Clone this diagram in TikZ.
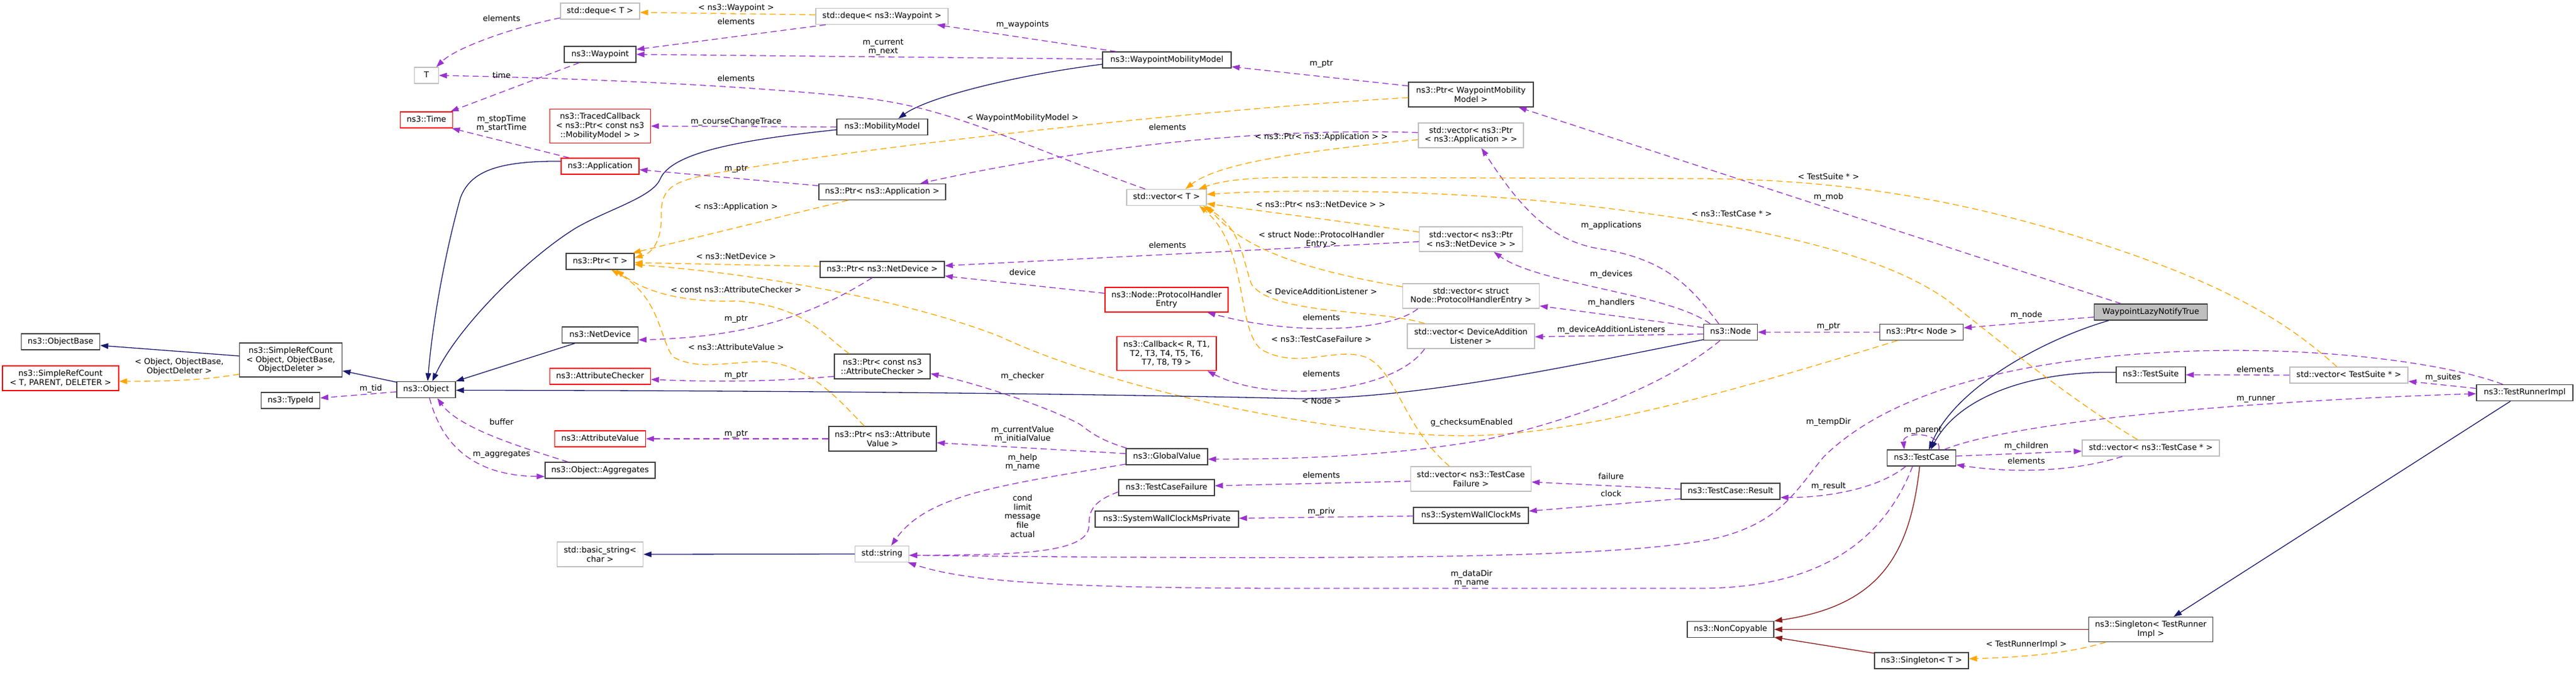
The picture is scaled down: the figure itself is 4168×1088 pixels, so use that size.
\documentclass[tikz,border=0pt]{standalone}
\usepackage{fontspec}
\setmainfont{DejaVu Sans}
\usetikzlibrary{arrows.meta}
\definecolor{cNavy}{HTML}{191970}
\definecolor{cPurple}{HTML}{9A32CD}
\definecolor{cOrange}{HTML}{FFA500}
\definecolor{cDarkRed}{HTML}{8B1A1A}
\definecolor{cBox}{HTML}{404040}
\definecolor{cGray}{HTML}{BFBFBF}
\definecolor{cUndoc}{HTML}{FF0000}
\newcommand{\dfont}{\fontsize{13pt}{14.8pt}\selectfont}
\tikzset{
  nbox/.style={line width=1.3pt, inner sep=0pt, align=center, font=\dfont},
  cls/.style={nbox, draw=cBox},
  tmpl/.style={nbox, draw=cGray},
  undoc/.style={nbox, draw=cUndoc},
  mainbox/.style={nbox, draw=cBox, fill=cGray},
  sz/.style 2 args={minimum width=#1pt, minimum height=#2pt},
  one/.style={text height=9.8pt, text depth=3.2pt},
  lab/.style={font=\dfont, align=center, inner sep=0pt},
  conn/.style={line width=1.3pt, -{Triangle[length=13pt,width=9pt]}},
  inh/.style={conn, draw=cNavy},
  usage/.style={conn, draw=cPurple, dash pattern=on 10pt off 6pt},
  tpl/.style={conn, draw=cOrange, dash pattern=on 10pt off 6pt},
  priv/.style={conn, draw=cDarkRed}
}
\begin{document}
\begin{tikzpicture}[x=1pt,y=1pt]
\useasboundingbox (0,0) rectangle (4168,-1088);
\fill[white] (0,0) rectangle (4168,-1088);

% ---------- nodes ----------
\node[tmpl, sz={39}{26}, one] (T) at (690,-122) {T};
\node[undoc, sz={85}{26}, one] (time) at (690,-194) {ns3::Time};
\node[cls, sz={127}{26}, one] (objbase) at (98,-553) {ns3::ObjectBase};
\node[undoc, sz={188}{40}] (srcT) at (98,-612) {ns3::SimpleRefCount\\< T, PARENT, DELETER >};
\node[cls, sz={166}{55}] (srcO) at (470.5,-582.5) {ns3::SimpleRefCount\\< Object, ObjectBase,\\ObjectDeleter >};
\node[cls, sz={95}{26}, one] (typeid) at (470,-648) {ns3::TypeId};
\node[cls, sz={95}{26}, one] (object) at (689.5,-630.5) {ns3::Object};

\node[tmpl, sz={128}{26}, one] (dequeT) at (971,-18) {std::deque< T >};
\node[cls, sz={116}{26}, one] (waypoint) at (971,-88) {ns3::Waypoint};
\node[undoc, sz={163}{55}] (traced) at (971,-204) {ns3::TracedCallback\\< ns3::Ptr< const ns3\\::MobilityModel > >};
\node[undoc, sz={126}{26}, one] (app) at (971,-269) {ns3::Application};
\node[cls, sz={110}{26}, one] (ptrT) at (971,-423) {ns3::Ptr< T >};
\node[cls, sz={123}{26}, one] (netdev) at (971,-542) {ns3::NetDevice};
\node[undoc, sz={163}{26}, one] (attrchk) at (971,-609) {ns3::AttributeChecker};
\node[undoc, sz={147}{26}, one] (attrval) at (971,-710) {ns3::AttributeValue};
\node[cls, sz={178}{26}, one] (aggr) at (971,-761) {ns3::Object::Aggregates};
\node[tmpl, sz={139}{40}] (basicstr) at (971,-897) {std::basic\_string<\\char >};

\node[tmpl, sz={214}{26}, one] (dequeW) at (1427,-26.5) {std::deque< ns3::Waypoint >};
\node[cls, sz={147}{26}, one] (mobility) at (1427.5,-205.5) {ns3::MobilityModel};
\node[cls, sz={205}{26}, one] (ptrApp) at (1427.5,-310.5) {ns3::Ptr< ns3::Application >};
\node[cls, sz={201}{26}, one] (ptrND) at (1427.5,-436) {ns3::Ptr< ns3::NetDevice >};
\node[cls, sz={155}{40}] (ptrAC) at (1427.5,-593) {ns3::Ptr< const ns3\\::AttributeChecker >};
\node[cls, sz={174}{40}] (ptrAV) at (1428,-710) {ns3::Ptr< ns3::Attribute\\Value >};
\node[tmpl, sz={87}{26}, one] (string) at (1427,-896.5) {std::string};

\node[cls, sz={208}{26}, one] (wmm) at (1888,-97) {ns3::WaypointMobilityModel};
\node[tmpl, sz={129}{26}, one] (vecT) at (1887.5,-319.5) {std::vector< T >};
\node[undoc, sz={199}{40}] (phe) at (1887.5,-485) {ns3::Node::ProtocolHandler\\Entry};
\node[undoc, sz={161}{55}] (callback) at (1887.5,-572) {ns3::Callback< R, T1,\\T2, T3, T4, T5, T6,\\T7, T8, T9 >};
\node[cls, sz={132}{26}, one] (globalval) at (1888,-739) {ns3::GlobalValue};
\node[cls, sz={155}{26}, one] (tcf) at (1887.5,-789) {ns3::TestCaseFailure};
\node[cls, sz={232}{26}, one] (swcmp) at (1888,-840) {ns3::SystemWallClockMsPrivate};

\node[cls, sz={202}{40}] (ptrWMM) at (2380,-153) {ns3::Ptr< WaypointMobility\\Model >};
\node[tmpl, sz={170}{40}] (vecPApp) at (2380,-219) {std::vector< ns3::Ptr\\< ns3::Application > >};
\node[tmpl, sz={167}{40}] (vecPND) at (2380,-387) {std::vector< ns3::Ptr\\< ns3::NetDevice > >};
\node[tmpl, sz={221}{40}] (vecPHE) at (2380,-479) {std::vector< struct\\Node::ProtocolHandlerEntry >};
\node[tmpl, sz={206}{40}] (vecDAL) at (2380,-544) {std::vector< DeviceAddition\\Listener >};
\node[tmpl, sz={195}{40}] (vecTCF) at (2380,-775) {std::vector< ns3::TestCase\\Failure >};
\node[cls, sz={186}{26}, one] (swcm) at (2380,-834) {ns3::SystemWallClockMs};

\node[cls, sz={87}{26}, one] (node) at (2800,-537.5) {ns3::Node};
\node[cls, sz={160}{26}, one] (result) at (2800,-795) {ns3::TestCase::Result};
\node[cls, sz={140}{26}, one] (noncopy) at (2800,-1018.5) {ns3::NonCopyable};

\node[cls, sz={135}{26}, one] (ptrNode) at (3109,-537.5) {ns3::Ptr< Node >};
\node[cls, sz={111}{26}, one] (testcase) at (3109,-741) {ns3::TestCase};
\node[cls, sz={152}{26}, one] (singT) at (3109,-1069) {ns3::Singleton< T >};

\node[mainbox, sz={183}{26}, one] (wlnt) at (3480,-505) {WaypointLazyNotifyTrue};
\node[cls, sz={112}{26}, one] (testsuite) at (3480,-606.5) {ns3::TestSuite};
\node[tmpl, sz={222}{26}, one] (vecTC) at (3480,-725) {std::vector< ns3::TestCase * >};
\node[cls, sz={201}{40}] (singTRI) at (3480,-1018.5) {ns3::Singleton< TestRunner\\Impl >};

\node[tmpl, sz={191}{26}, one] (vecTS) at (3800.5,-607) {std::vector< TestSuite * >};
\node[cls, sz={156}{26}, one] (tri) at (4085,-635.5) {ns3::TestRunnerImpl};

% ---------- connectors ----------
\draw[inh] ([xshift=-68pt]wlnt.south) .. controls (3310,-548) and (3165,-625) .. ([xshift=12pt]testcase.north);
\draw[inh] ([yshift=4pt]testsuite.west) .. controls (3290,-600) and (3170,-640) .. ([xshift=15pt]testcase.north);
\draw[usage] ([yshift=-8pt]wlnt.west) -- ([yshift=7pt]ptrNode.east);
\draw[usage] (ptrNode.west) -- (node.east);
\draw[tpl] ([xshift=-39pt]ptrNode.south) .. controls (2820,-628) and (2560,-705) .. (2368,-705) .. controls (2150,-705) and (1800,-630) .. (1619,-545) .. controls (1480,-490) and (1250,-445) .. ([yshift=-5pt]ptrT.east);
\draw[usage] ([xshift=-48pt]wlnt.north) -- ([xshift=77pt]ptrWMM.south);
\draw[usage] ([yshift=14pt]ptrWMM.west) -- ([yshift=-11pt]wmm.east);
\draw[tpl] ([yshift=-5pt]ptrWMM.west) .. controls (1900,-180) and (1400,-240) .. (1191,-274.6) .. controls (1100,-290) and (1069,-295) .. (1070,-347) .. controls (1071,-390) and (1055,-410) .. ([yshift=6pt]ptrT.east);
\draw[inh] ([yshift=-7pt]wmm.west) .. controls (1640,-122) and (1500,-158) .. ([xshift=26pt]mobility.north);
\draw[usage] ([xshift=-82pt]wmm.north) -- ([xshift=89pt]dequeW.south);
\draw[usage] ([yshift=1.4pt]wmm.west) -- (waypoint.east);
\draw[tpl] ([yshift=2.5pt]dequeW.west) -- ([yshift=-2pt]dequeT.east);
\draw[usage] ([xshift=-91pt]dequeW.south) -- ([yshift=8pt]waypoint.east);
\draw[usage] ([yshift=-11pt]dequeT.west) .. controls (840,-42) and (740,-75) .. ([xshift=16pt]T.north);
\draw[usage] ([xshift=-34pt]waypoint.south) -- ([xshift=39pt]time.north);
\draw[usage] ([xshift=-34.5pt]vecT.north) .. controls (1640,-230) and (1540,-175) .. (1400,-159) .. controls (1250,-142) and (1000,-128) .. (T.east);
\draw[usage] ([xshift=-50pt]app.north) -- ([xshift=-2pt]time.south east);
\draw[inh] ([yshift=8pt]app.west) .. controls (800,-260) and (760,-280) .. (745,-320) .. controls (720,-410) and (700,-520) .. ([xshift=2.5pt]object.north);
\draw[inh] ([yshift=-4.5pt]mobility.west) .. controls (1180,-228) and (1085,-250) .. (1068,-290) .. controls (1055,-320) and (980,-340) .. (930,-370) .. controls (850,-420) and (740,-530) .. ([xshift=10pt]object.north);
\draw[usage] (mobility.west) -- (traced.east);
\draw[usage] ([yshift=10pt]ptrApp.west) -- ([yshift=-5.6pt]app.east);
\draw[tpl] ([xshift=-55.5pt]ptrApp.south) -- ([xshift=-3pt]ptrT.north east);
\draw[usage] ([yshift=4.5pt]vecPApp.west) .. controls (2000,-205) and (1700,-250) .. ([xshift=61.5pt]ptrApp.north);
\draw[tpl] ([yshift=-7pt]vecPApp.west) .. controls (2100,-245) and (1970,-265) .. ([xshift=30.5pt]vecT.north);
\draw[usage] ([xshift=-19pt]node.north) .. controls (2740,-470) and (2700,-420) .. (2591,-403) .. controls (2500,-390) and (2450,-320) .. ([xshift=17pt]vecPApp.south);
\draw[usage] ([xshift=-33pt]node.north) .. controls (2700,-475) and (2490,-460) .. ([xshift=37pt]vecPND.south);
\draw[usage] ([yshift=7.5pt]node.west) -- ([yshift=-16pt]vecPHE.east);
\draw[usage] ([yshift=-3pt]node.west) -- ([yshift=-1pt]vecDAL.east);
\draw[inh] ([yshift=1.5pt]node.south west) .. controls (2550,-590) and (2300,-645) .. (2100,-645) .. controls (1900,-640) and (1400,-632) .. ([yshift=-1pt]object.east);
\draw[usage] ([xshift=-17pt]node.south) .. controls (2700,-620) and (2550,-680) .. (2400,-712) .. controls (2250,-738) and (2100,-743) .. ([yshift=-4pt]globalval.east);
\draw[usage] ([yshift=-4pt]vecPND.west) -- ([yshift=6pt]ptrND.east);
\draw[tpl] ([yshift=11.6pt]vecPND.west) -- ([yshift=-10pt]vecT.east);
\draw[usage] ([xshift=-86pt]vecPHE.south) .. controls (2250,-535) and (2100,-545) .. ([xshift=66pt]phe.south);
\draw[tpl] ([yshift=15pt]vecPHE.west) .. controls (2100,-435) and (2010,-400) .. (vecT.south east);
\draw[usage] ([yshift=10.5pt]phe.west) -- ([yshift=-10.6pt]ptrND.east);
\draw[usage] ([xshift=-16.5pt]ptrND.south) .. controls (1330,-500) and (1230,-545) .. ([yshift=-8pt]netdev.east);
\draw[tpl] ([yshift=5pt]ptrND.west) -- ([yshift=-2pt]ptrT.east);
\draw[inh] ([xshift=-41pt]netdev.south) -- (object.north east);
\draw[tpl] ([xshift=-75pt]vecDAL.north) .. controls (2230,-500) and (2060,-510) .. (2025,-460) .. controls (2010,-420) and (2010,-370) .. ([xshift=-6pt]vecT.south east);
\draw[usage] ([xshift=-75pt]vecDAL.south) .. controls (2255,-635) and (2060,-655) .. ([xshift=66pt]callback.south);
\draw[tpl] ([xshift=-35pt]vecTCF.north) .. controls (2270,-690) and (2260,-600) .. (2210,-578) .. controls (2160,-560) and (2100,-600) .. (2040,-565) .. controls (2000,-530) and (2020,-400) .. ([xshift=-12pt]vecT.south east);
\draw[usage] ([yshift=-3.7pt]vecTCF.west) -- ([yshift=3pt]tcf.east);
\draw[usage] ([yshift=-7pt]tcf.west) .. controls (1765,-812) and (1762,-830) .. (1762,-850) .. controls (1762,-895) and (1650,-898) .. ([yshift=-2pt]string.east);
\draw[usage] ([yshift=-12pt]globalval.west) .. controls (1620,-785) and (1500,-800) .. ([xshift=15pt]string.north);
\draw[usage] ([yshift=5pt]globalval.west) -- ([yshift=-6.4pt]ptrAV.east);
\draw[usage] ([xshift=2pt]globalval.north west) .. controls (1780,-712) and (1765,-700) .. (1748,-687) .. controls (1700,-660) and (1580,-620) .. ([yshift=-11.6pt]ptrAC.east);
\draw[usage] ([yshift=-16pt]ptrAC.west) .. controls (1250,-618) and (1150,-618) .. ([yshift=-5pt]attrchk.east);
\draw[tpl] ([xshift=-53.5pt]ptrAC.north) .. controls (1330,-540) and (1300,-495) .. (1191,-487) .. controls (1100,-490) and (1040,-470) .. ([xshift=26pt]ptrT.south);
\draw[usage] (ptrAV.west) -- (attrval.east);
\draw[tpl] ([xshift=-29.5pt]ptrAV.north) .. controls (1360,-650) and (1310,-590) .. (1236,-585) .. controls (1180,-585) and (1130,-600) .. (1090,-578) .. controls (1068,-555) and (1070,-480) .. ([xshift=18pt]ptrT.south);
\draw[usage] ([xshift=5.5pt]object.south) .. controls (720,-740) and (790,-770) .. ([yshift=-10pt]aggr.west);
\draw[usage] ([xshift=-52pt]aggr.north) .. controls (830,-720) and (740,-690) .. ([xshift=18pt]object.south);
\draw[inh] (string.west) -- (basicstr.east);
\draw[usage] ([xshift=-14.5pt]testcase.south) .. controls (3050,-870) and (2950,-952) .. (2750,-952) -- (2100,-952) .. controls (1700,-952) and (1560,-940) .. ([xshift=-2pt]string.south east);
\draw[usage] ([xshift=-35.5pt]tri.north) .. controls (3950,-585) and (3750,-562) .. (3550,-568) .. controls (3250,-578) and (3050,-640) .. (2950,-740) .. controls (2905,-795) and (2880,-845) .. (2780,-870) .. controls (2650,-900) and (2300,-908) .. ([yshift=-2pt]string.east);
\draw[usage] ([xshift=-25.5pt]testcase.south) .. controls (3040,-790) and (2960,-805) .. ([yshift=-10pt]result.east);
\draw[usage] ([xshift=28pt]testcase.north) .. controls (3142,-698) and (3078,-698) .. ([xshift=-28pt]testcase.north);
\draw[usage] ([yshift=3pt]testcase.east) -- ([yshift=-5pt]vecTC.west);
\draw[usage] ([xshift=-46pt]vecTC.south) .. controls (3350,-765) and (3250,-765) .. ([yshift=-11pt]testcase.east);
\draw[tpl] ([xshift=-21.5pt]vecTC.north) .. controls (3340,-640) and (3240,-555) .. (3150,-485) .. controls (3030,-400) and (2800,-360) .. (2550,-331) .. controls (2350,-308) and (2100,-305) .. ([yshift=5pt]vecT.east);
\draw[tpl] ([xshift=-19.5pt]vecTS.north) .. controls (3700,-520) and (3600,-460) .. (3400,-395) .. controls (3200,-330) and (3000,-290) .. (2750,-289) -- (2100,-287) .. controls (2000,-287) and (1970,-295) .. ([xshift=52pt]vecT.north);
\draw[usage] ([yshift=7pt]tri.west) -- ([yshift=-10pt]vecTS.east);
\draw[usage] (vecTS.west) -- (testsuite.east);
\draw[usage] ([xshift=37pt]testcase.north) .. controls (3250,-685) and (3600,-650) .. ([yshift=-1.5pt]tri.west);
\draw[inh] ([xshift=-23pt]tri.south) -- ([xshift=37pt]singTRI.north);
\draw[priv] (singTRI.west) -- (noncopy.east);
\draw[tpl] ([xshift=-73pt]singTRI.south) .. controls (3340,-1060) and (3250,-1064) .. ([yshift=3pt]singT.east);
\draw[priv] ([yshift=12pt]singT.west) -- ([yshift=1pt]noncopy.south east);
\draw[priv] ([xshift=-3pt]testcase.south) .. controls (3090,-900) and (3040,-980) .. (noncopy.north east);
\draw[usage] ([yshift=3.5pt]result.west) -- ([yshift=-5pt]vecTCF.east);
\draw[usage] ([yshift=-12pt]result.west) -- ([yshift=7pt]swcm.east);
\draw[usage] ([yshift=-1pt]swcm.west) -- ([yshift=1.4pt]swcmp.east);
\draw[inh] ([yshift=6.5pt]srcO.west) -- ([yshift=-6pt]objbase.east);
\draw[tpl] ([yshift=-23pt]srcO.west) .. controls (330,-615) and (280,-617) .. ([yshift=-5pt]srcT.east);
\draw[inh] ([yshift=-1.5pt]object.north west) -- ([yshift=-17.5pt]srcO.east);
\draw[usage] ([yshift=-3.5pt]object.west) -- ([yshift=4pt]typeid.east);

% ---------- labels ----------
\node[lab, one] (l01) at (600,-629) {m\_tid};
\node[lab] (l02) at (290,-593.5) {< Object, ObjectBase,\\ObjectDeleter >};
\node[lab, one] (l03) at (811.6,-31) {elements};
\node[lab, one] (l04) at (1191,-13) {< ns3::Waypoint >};
\node[lab, one] (l05) at (1191,-36.5) {elements};
\node[lab, one] (l06) at (1654.5,-40) {m\_waypoints};
\node[lab] (l07) at (1429,-76.5) {m\_current\\m\_next};
\node[lab, one] (l08) at (2138,-103.6) {m\_ptr};
\node[lab, one] (l09) at (811.6,-123.4) {time};
\node[lab, one] (l10) at (1191,-128.6) {elements};
\node[lab, one] (l11) at (1654.5,-191) {< WaypointMobilityModel >};
\node[lab, one] (l12) at (1191,-197) {m\_courseChangeTrace};
\node[lab] (l13) at (811.6,-200) {m\_stopTime\\m\_startTime};
\node[lab, one] (l14) at (1889,-207.5) {elements};
\node[lab, one] (l15) at (2138,-222.5) {< ns3::Ptr< ns3::Application > >};
\node[lab, one] (l16) at (1191,-273.5) {m\_ptr};
\node[lab, one] (l17) at (2958.5,-287.5) {< TestSuite * >};
\node[lab, one] (l18) at (2958.5,-319) {m\_mob};
\node[lab, one] (l19) at (2137,-332) {< ns3::Ptr< ns3::NetDevice > >};
\node[lab, one] (l20) at (1191,-335.4) {< ns3::Application >};
\node[lab, one] (l21) at (2802,-347) {< ns3::TestCase * >};
\node[lab, one] (l22) at (2607,-365) {m\_applications};
\node[lab] (l23) at (2138,-388) {< struct Node::ProtocolHandler\\Entry >};
\node[lab, one] (l24) at (1889,-398) {elements};
\node[lab, one] (l25) at (1191,-416) {< ns3::NetDevice >};
\node[lab, one] (l26) at (1654.5,-442) {device};
\node[lab, one] (l27) at (2607,-444) {m\_devices};
\node[lab, one] (l28) at (1191,-470) {< const ns3::AttributeChecker >};
\node[lab, one] (l29) at (2138,-472.7) {< DeviceAdditionListener >};
\node[lab, one] (l30) at (2607,-490) {m\_handlers};
\node[lab, one] (l31) at (3278.6,-510) {m\_node};
\node[lab, one] (l32) at (2138,-515) {elements};
\node[lab, one] (l33) at (1191,-516) {m\_ptr};
\node[lab, one] (l34) at (2958.5,-528) {m\_ptr};
\node[lab, one] (l35) at (2607,-534) {m\_deviceAdditionListeners};
\node[lab, one] (l36) at (2138,-550) {< ns3::TestCaseFailure >};
\node[lab, one] (l37) at (1191,-563) {< ns3::AttributeValue >};
\node[lab, one] (l38) at (3649,-599) {elements};
\node[lab, one] (l39) at (2138,-606) {elements};
\node[lab, one] (l40) at (1191,-607) {m\_ptr};
\node[lab, one] (l41) at (1654.5,-609) {m\_checker};
\node[lab, one] (l42) at (3953,-611.5) {m\_suites};
\node[lab, one] (l43) at (3650,-644.7) {m\_runner};
\node[lab, one] (l44) at (2138,-650) {< Node >};
\node[lab, one] (l45) at (2958.5,-683.5) {m\_tempDir};
\node[lab, one] (l46) at (811.6,-684) {buffer};
\node[lab, one] (l47) at (2381,-684.5) {g\_checksumEnabled};
\node[lab, one] (l48) at (3111,-696) {m\_parent};
\node[lab] (l49) at (1654.5,-703) {m\_currentValue\\m\_initialValue};
\node[lab, one] (l50) at (1191,-702.5) {m\_ptr};
\node[lab, one] (l51) at (3278.6,-722) {m\_children};
\node[lab, one] (l52) at (811.6,-735.5) {m\_aggregates};
\node[lab] (l53) at (1654.5,-748) {m\_help\\m\_name};
\node[lab, one] (l54) at (3278.6,-747.6) {elements};
\node[lab, one] (l55) at (2138,-770) {elements};
\node[lab, one] (l56) at (2606.7,-772.5) {failure};
\node[lab, one] (l57) at (2958.5,-787) {m\_result};
\node[lab, one] (l58) at (2606.7,-800.5) {clock};
\node[lab, one] (l59) at (2138,-828) {m\_priv};
\node[lab] (l60) at (1654.5,-835) {cond\\limit\\message\\file\\actual};
\node[lab] (l61) at (2381,-936) {m\_dataDir\\m\_name};
\node[lab, one] (l62) at (3278.6,-1043.6) {< TestRunnerImpl >};
\end{tikzpicture}
\end{document}
